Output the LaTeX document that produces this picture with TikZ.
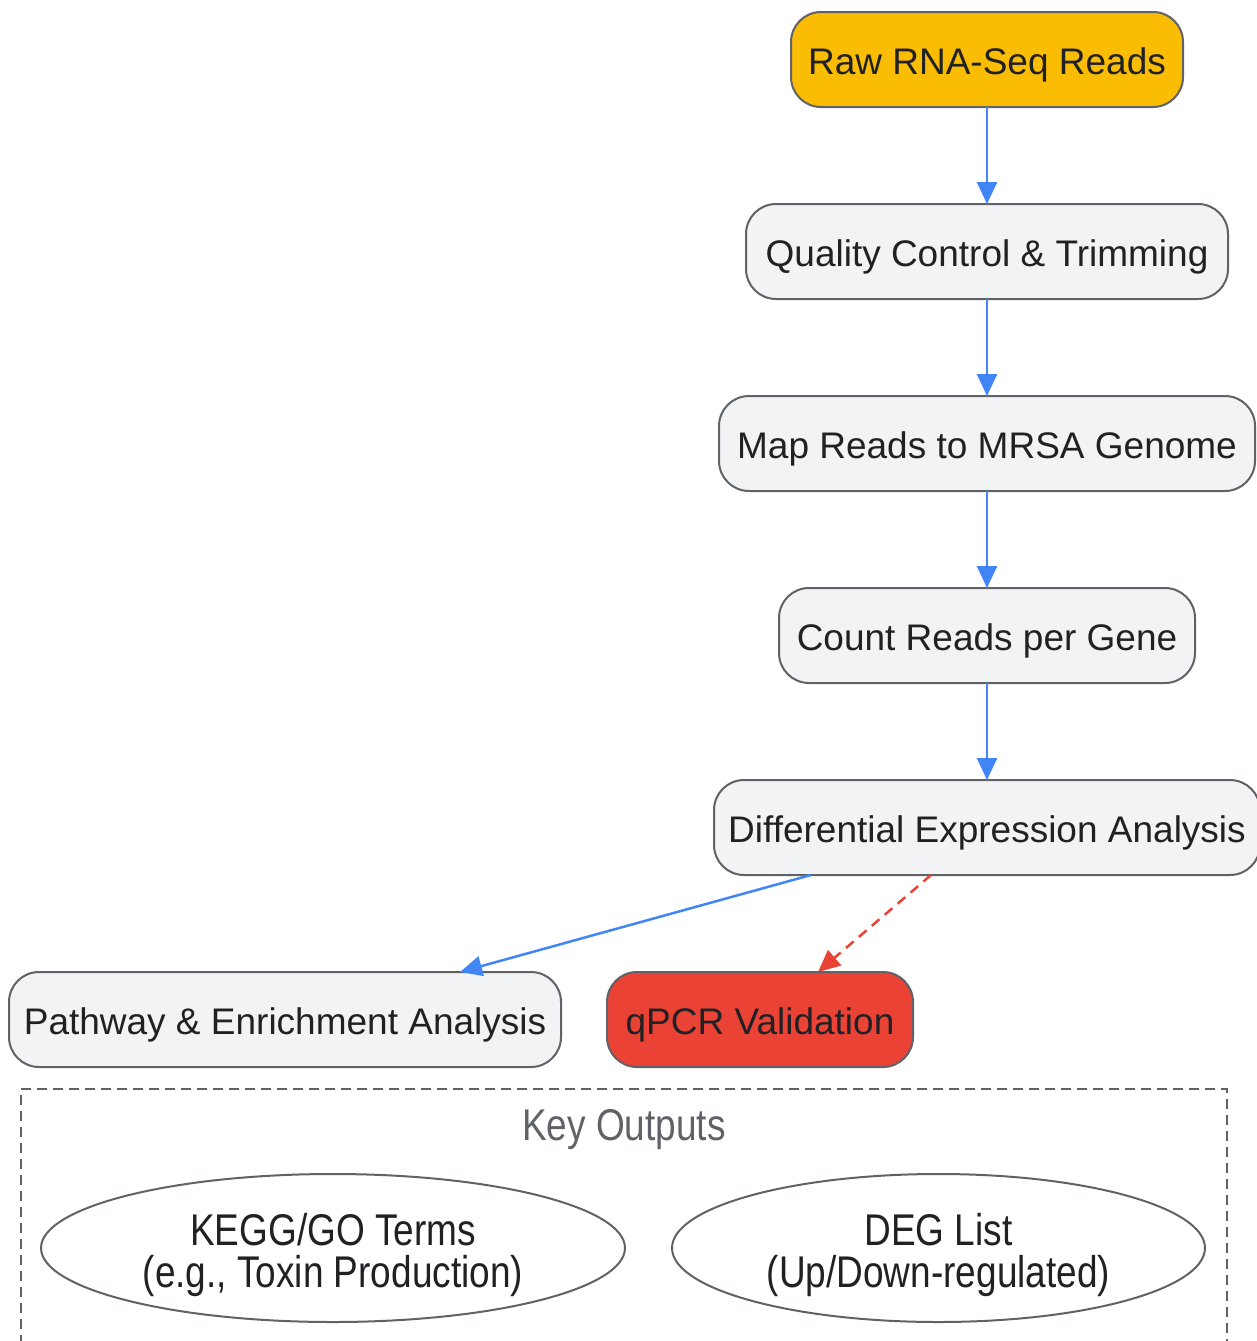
\documentclass[tikz,border=0pt]{standalone}
\usepackage{fontspec}
\setmainfont{Liberation Sans}
\usetikzlibrary{arrows.meta,shapes.geometric}
\definecolor{flowblue}{HTML}{4285F4}
\definecolor{flowred}{HTML}{EA4335}
\definecolor{flowyellow}{HTML}{FBBC04}
\definecolor{boxgray}{HTML}{F1F3F4}
\definecolor{edgegray}{HTML}{5F6368}
\definecolor{inkgray}{HTML}{202124}
\newcommand{\tallline}[1]{\raisebox{-7pt}[\height][\depth]{\scalebox{1}[1.2]{#1}}}
\begin{document}
\begin{tikzpicture}[x=1pt,y=-1pt,inner sep=0pt,outer sep=0pt,
stepbox/.style={draw=edgegray,fill=boxgray,rounded corners=30pt,line width=2pt,minimum height=95pt,text height=29pt,text depth=0pt,text=inkgray,font=\fontsize{37}{44}\selectfont},
outblob/.style={draw=edgegray,ellipse,line width=2pt,minimum width=584pt,minimum height=148pt,text=inkgray,align=center,font=\fontsize{37}{42}\selectfont},
flow/.style={draw=flowblue,line width=2.5pt,-{Triangle[length=22pt,width=20pt]}},
check/.style={draw=flowred,line width=2.5pt,dash pattern=on 10pt off 7pt,-{Triangle[length=22pt,width=20pt]}}]
\useasboundingbox (0,0) rectangle (1257,1341);

\draw (987,59.5) node[stepbox,fill=flowyellow,minimum width=392pt] (raw) {Raw RNA-Seq Reads};
\draw (987,251.5) node[stepbox,minimum width=482pt] (qc) {Quality Control \& Trimming};
\draw (987,443.5) node[stepbox,minimum width=536pt] (map) {Map Reads to MRSA Genome};
\draw (987,635.5) node[stepbox,minimum width=416pt] (count) {Count Reads per Gene};
\draw (987,827.5) node[stepbox,minimum width=546pt] (dea) {Differential Expression Analysis};
\draw (285,1019.5) node[stepbox,minimum width=552pt] (path) {Pathway \& Enrichment Analysis};
\draw (760,1019.5) node[stepbox,fill=flowred,minimum width=306pt] (qpcr) {qPCR Validation};

% key outputs
\draw[edgegray,line width=2pt,dash pattern=on 10pt off 6pt] (21,1345) |- (1227,1089) -- (1227,1345);
\draw (624,1123) node[text=edgegray,font=\fontsize{37}{44}\selectfont] (keylab) {\tallline{Key Outputs}};
\draw (333,1248) node[outblob] (kegg) {\tallline{KEGG/GO Terms}\\\tallline{(e.g., Toxin Production)}};
\draw (938.5,1248) node[outblob,minimum width=533pt] (deg) {\tallline{DEG List}\\\tallline{(Up/Down-regulated)}};

\draw[flow] (raw) -- (qc);
\draw[flow] (qc) -- (map);
\draw[flow] (map) -- (count);
\draw[flow] (count) -- (dea);
\draw[flow] ([xshift=-176pt]dea.south) -- ([xshift=175pt]path.north);
\draw[check] ([xshift=-56pt]dea.south) -- ([xshift=58pt]qpcr.north);
\end{tikzpicture}
\end{document}
